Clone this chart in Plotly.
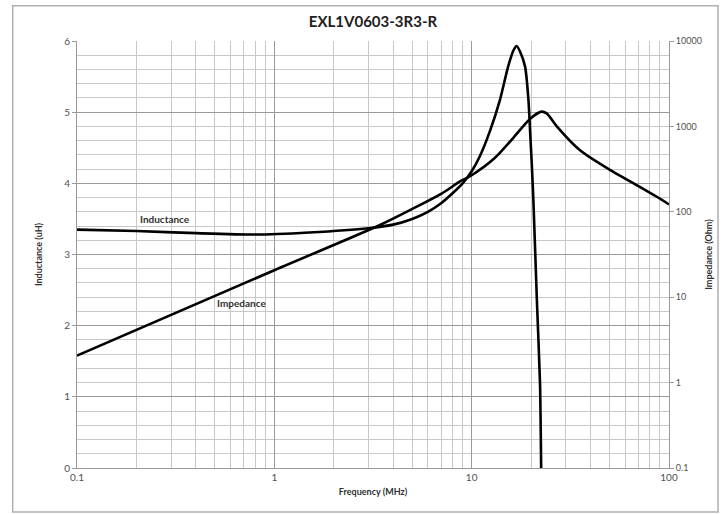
import plotly.graph_objects as go

# ---- data ----
freq_L = [0.1, 0.2, 0.4, 0.8, 1.5, 3, 4, 5, 6, 7, 8, 9, 10, 11, 12.4, 13.9,
          15.3, 16.3, 16.9, 17.6, 18.65, 19.4, 19.8, 20.2, 20.55, 21.4, 22.2, 22.5]
inductance = [3.35, 3.33, 3.30, 3.28, 3.31, 3.37, 3.42, 3.50, 3.60, 3.72, 3.86, 4.00,
              4.17, 4.38, 4.74, 5.17, 5.64, 5.87, 5.93, 5.85, 5.64, 5.17, 4.70, 4.23,
              3.76, 2.36, 1.19, 0.0]

freq_Z = [0.1, 1, 3.43, 5, 7, 8.77, 10, 13, 16.3, 19.8, 22.6, 24,
          27, 35.4, 52, 70, 86.7, 100]
impedance = [2.07, 20.7, 70, 108, 162, 228, 268, 420, 740, 1230, 1490, 1420,
             1000, 525, 295, 200, 150, 122]

x_ticks = [0.1, 1, 10, 100]
x_tick_labels = ["0.1", "1", "10", "100"]
z_ticks = [0.1, 1, 10, 100, 1000, 10000]
z_tick_labels = ["0.1", "1", "10", "100", "1000", "10000"]

title = "EXL1V0603-3R3-R"
font_family = "Lato, 'Open Sans', sans-serif"

fig = go.Figure()
fig.add_trace(go.Scatter(x=freq_L, y=inductance, mode="lines", name="Inductance",
                         line=dict(color="black", width=2.6, shape="spline", smoothing=0.6),
                         yaxis="y"))
fig.add_trace(go.Scatter(x=freq_Z, y=impedance, mode="lines", name="Impedance",
                         line=dict(color="black", width=2.6, shape="spline", smoothing=0.8),
                         yaxis="y2"))

grid_minor = "#c8c8c8"
grid_major = "#9a9a9a"

fig.update_layout(
    width=728, height=514,
    margin=dict(l=77, r=59, t=41, b=46, autoexpand=False),
    paper_bgcolor="white", plot_bgcolor="white",
    showlegend=False,
    font=dict(family=font_family, color="#404040", size=10),
    title=dict(text="<b>" + title + "</b>", x=0.5, xref="paper", y=0.957,
               yanchor="middle", font=dict(size=15, color="#202020", family=font_family)),
    xaxis=dict(type="log", range=[-1, 2], tickvals=x_ticks, ticktext=x_tick_labels,
               showgrid=True, gridcolor=grid_major, gridwidth=1, automargin=False,
               minor=dict(dtick="D1", showgrid=True, gridcolor=grid_minor, gridwidth=1, ticks=""),
               showline=True, linecolor=grid_major, ticks="", zeroline=False,
               title=dict(text="<b>Frequency (MHz)</b>", font=dict(size=9, color="#303030"),
                          standoff=6),
               tickfont=dict(size=10, color="#505050")),
    yaxis=dict(range=[0, 6], dtick=1, showgrid=True, gridcolor=grid_major, gridwidth=1,
               minor=dict(dtick=0.2, showgrid=True, gridcolor=grid_minor, gridwidth=1),
               showline=True, linecolor=grid_major, ticks="outside", ticklen=4,
               tickcolor=grid_major, zeroline=False, automargin=False,
               title=dict(text="<b>Inductance (uH)</b>", font=dict(size=9, color="#303030"),
                          standoff=20),
               tickfont=dict(size=10, color="#505050")),
    yaxis2=dict(type="log", range=[-1, 4], overlaying="y", side="right",
                tickvals=z_ticks, ticktext=z_tick_labels, showgrid=False,
                showline=True, linecolor=grid_major, ticks="outside", ticklen=4,
                tickcolor=grid_major, zeroline=False, automargin=False,
                title=dict(text="<b>Impedance (Ohm)</b>", font=dict(size=9, color="#303030"),
                           standoff=4),
                tickfont=dict(size=9, color="#505050")),
)

fig.add_annotation(x=-0.553, y=3.50, xref="x", yref="y", text="<b>Inductance</b>",
                   showarrow=False, font=dict(size=10, color="#303030"))
fig.add_annotation(x=-0.164, y=2.32, xref="x", yref="y", text="<b>Impedance</b>",
                   showarrow=False, font=dict(size=10, color="#303030"))

# outer chart border
fig.add_shape(type="rect", xref="paper", yref="paper",
              x0=-0.1086, x1=1.0828, y0=-0.103, y1=1.0827,
              line=dict(color="#b0b0b0", width=1.5), layer="below")

fig.write_html("out.html", config={"displayModeBar": False},
               post_script="document.body.style.margin='0px';")
